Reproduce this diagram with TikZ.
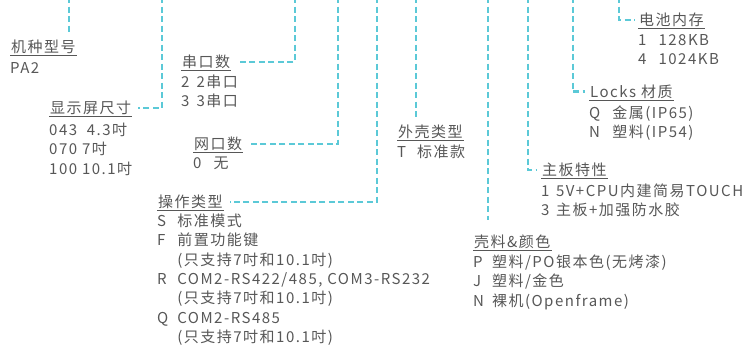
\documentclass[tikz,border=0pt]{standalone}
\usepackage{fontspec}
\setmainfont{Noto Sans CJK SC}[LetterSpace=10]
\usetikzlibrary{positioning}
\definecolor{leadcyan}{HTML}{5BC9D7}
\definecolor{textgray}{HTML}{575757}
\tikzset{%
  lead/.style={leadcyan, line width=2.6pt, dash pattern=on 6pt off 3.5pt},% dashed lead line
  title/.style={anchor=base west, inner xsep=1pt, inner ysep=0pt, text=textgray,
    append after command={([yshift=-3.2pt]\tikzlastnode.base west)
      edge[textgray, line width=0.8pt] ([yshift=-3.2pt]\tikzlastnode.base east)}},
  items/.style={anchor=base west, inner sep=0pt, text=textgray}
}
% option list: code column and text column
\newcommand{\opts}[2][9pt]{\begin{tabular}[t]{@{}l@{\hspace{#1}}l@{}}#2\end{tabular}}

\begin{document}
\begin{tikzpicture}[x=1pt,y=-1pt,font=\fontsize{15}{19.3}\selectfont]
  \useasboundingbox (0,0) rectangle (745,351);
  % top ends of the leads
  \coordinate (T1) at (69,-3);
  \coordinate (T2) at (162,-3);
  \coordinate (T3) at (295,-3);
  \coordinate (T4) at (338,-3);
  \coordinate (T5) at (377,-3);
  \coordinate (T6) at (416,-3);
  \coordinate (T7) at (488,-3);
  \coordinate (T8) at (528,-3);
  \coordinate (T9) at (573,-3);
  \coordinate (T10) at (619,-3);
  % titles
  \node[title] (model) at (10,52.5) {机种型号};
  \node[title] (screen) at (49,113.5) {显示屏尺寸};
  \node[title] (serial) at (181,67.5) {串口数};
  \node[title] (net) at (193,149.5) {网口数};
  \node[title] (oper) at (157,207.5) {操作类型};
  \node[title] (shell) at (397,137.5) {外壳类型};
  \node[title] (color) at (473,247.5) {壳料\&颜色};
  \node[title] (board) at (541,175.5) {主板特性};
  \node[title] (locks) at (589,97.5) {Locks 材质};
  \node[title] (batt) at (638,25.5) {电池内存};
  % options
  \node[items] (modelopt) at (10,73.5) {PA2};
  \node[items] (screenopt) at (49,135.5) {\begin{tabular}[t]{@{}l@{}}043\ \ 4.3吋\\070 7吋\\100 10.1吋\end{tabular}};
  \node[items] (serialopt) at (181,87.5) {\opts[7pt]{2 & 2串口\\3 & 3串口}};
  \node[items] (netopt) at (193,168.5) {\opts[12pt]{0 & 无}};
  \node[items] (operopt) at (157,226.5) {\opts[9pt]{S & 标准模式\\F & 前置功能键\\ & (只支持7吋和10.1吋)\\
    R & COM2-RS422/485, COM3-RS232\\ & (只支持7吋和10.1吋)\\Q & COM2-RS485\\ & (只支持7吋和10.1吋)}};
  \node[items] (shellopt) at (397,157.5) {\opts[11pt]{T & 标准款}};
  \node[items] (coloropt) at (473,267.5) {\opts[8pt]{P & 塑料/PO银本色(无烤漆)\\J & 塑料/金色\\N & 裸机(Openframe)}};
  \node[items] (boardopt) at (541,196.5) {\opts[6.5pt]{1 & 5V+CPU内建简易TOUCH\\3 & 主板+加强防水胶}};
  \node[items] (locksopt) at (589,118.5) {\opts[12pt]{Q & 金属(IP65)\\N & 塑料(IP54)}};
  \node[items] (battopt) at (638,45.5) {\opts[12pt]{1 & 128KB\\4 & 1024KB}};
  % leads
  \draw[lead,shorten >=5pt] (T1) -- (T1 |- model.north);
  \draw[lead,shorten >=6pt] (T2) |- (screen.east);
  \draw[lead,shorten >=6pt] (T3) |- (serial.east);
  \draw[lead,shorten >=5pt] (T4) |- (net.east);
  \draw[lead,shorten >=6pt] (T5) |- (oper.east);
  \draw[lead,shorten >=8pt] (T6) -- (T6 |- shell.north);
  \draw[lead,shorten >=15pt] (T7) -- (T7 |- color.north);
  \draw[lead,shorten >=4pt] (T8) |- (board.west);
  \draw[lead,shorten >=4pt] (T9) |- (locks.west);
  \draw[lead,shorten >=3pt] (T10) |- (batt.west);
\end{tikzpicture}
\end{document}
